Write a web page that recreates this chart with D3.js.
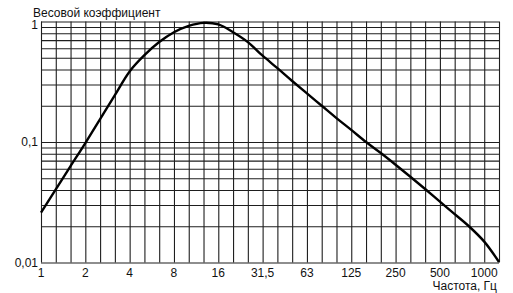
<!DOCTYPE html>
<html>
<head>
<meta charset="utf-8">
<script src="https://cdn.jsdelivr.net/npm/d3@7"></script>
<style>
  body { margin: 0; background: #fff; }
  text { font-family: "Liberation Sans", Arial, sans-serif; fill: #111; }
  .grid line { stroke: #1e1e1e; stroke-width: 1.1; }
  .curve { fill: none; stroke: #000; stroke-width: 2.4px; }
</style>
</head>
<body>
<svg id="chart"></svg>
<script>
// third-octave band frequencies, Hz (vertical grid + curve points)
var bandFreqs = [1, 1.25, 1.6, 2, 2.5, 3.15, 4, 5, 6.3, 8, 10, 12.5, 16, 20, 25, 31.5,
  40, 50, 63, 80, 100, 125, 160, 200, 250, 315, 400, 500, 630, 800, 1000, 1250];
// weighting factor at each band
var weights = [0.0259, 0.0404, 0.063, 0.098, 0.155, 0.245, 0.385, 0.525, 0.675, 0.815, 0.92, 0.975, 0.945, 0.815, 0.675, 0.52,
  0.41, 0.321, 0.253, 0.2, 0.158, 0.126, 0.1, 0.081, 0.0648, 0.0515, 0.0407, 0.032, 0.0252, 0.0198, 0.0149, 0.0101];
// labelled frequencies on the x axis
var xTickFreqs = [1, 2, 4, 8, 16, 31.5, 63, 125, 250, 500, 1000];
// horizontal grid values and labels on the y axis
var yGridValues = [0.01, 0.02, 0.03, 0.04, 0.05, 0.06, 0.07, 0.08, 0.09,
  0.1, 0.2, 0.3, 0.4, 0.5, 0.6, 0.7, 0.8, 0.9, 1];
var yTickValues = [0.01, 0.1, 1];

var chartW = 513, chartH = 293;
var plotLeft = 41, plotRight = 499, plotTop = 21.5, plotBottom = 262.5;

var svg = d3.select("#chart").attr("width", chartW).attr("height", chartH);

// nominal band -> exact third-octave centre (10^(k/10)), so the grid is even
function exact(f) { return Math.pow(10, Math.round(10 * Math.log10(f)) / 10); }

var x = d3.scaleLog().domain([1, exact(1250)]).range([plotLeft, plotRight]);
var y = d3.scaleLog().domain([0.01, 1]).range([plotBottom, plotTop]);

function comma(v) { return String(v).replace(".", ","); }

// vertical grid lines
svg.append("g")
  .attr("class", "grid")
  .attr("transform", "translate(0," + plotBottom + ")")
  .call(d3.axisBottom(x).tickValues(bandFreqs.map(exact)).tickSize(-(plotBottom - plotTop)).tickFormat(""))
  .call(g => g.select(".domain").remove());

// horizontal grid lines
svg.append("g")
  .attr("class", "grid")
  .attr("transform", "translate(" + plotLeft + ",0)")
  .call(d3.axisLeft(y).tickValues(yGridValues).tickSize(-(plotRight - plotLeft)).tickFormat(""))
  .call(g => g.select(".domain").remove());

// x labels
var xLabels = svg.append("g")
  .attr("transform", "translate(0," + plotBottom + ")");
xLabels.selectAll("text")
  .data(xTickFreqs)
  .join("text")
  .attr("x", d => x(exact(d)))
  .attr("y", 6)
  .attr("dy", "0.71em")
  .attr("text-anchor", "middle")
  .attr("font-size", 12)
  .text(comma);

// y labels
var yAxis = svg.append("g")
  .attr("transform", "translate(" + plotLeft + ",0)")
  .call(d3.axisLeft(y).tickValues(yTickValues).tickSize(0).tickPadding(3).tickFormat(comma))
  .call(g => g.select(".domain").remove());
yAxis.selectAll("text").attr("font-size", 12).attr("font-family", null);
// the "1" sits just below the top line
yAxis.selectAll("text").filter(d => d === 1).attr("dy", "0.57em");

// weighting curve
var line = d3.line()
  .x((d, i) => x(exact(bandFreqs[i])))
  .y(d => y(d))
  .curve(d3.curveCatmullRom.alpha(0.5));

svg.append("path")
  .datum(weights)
  .attr("class", "curve")
  .attr("d", line);

// titles
svg.append("text")
  .attr("x", 33).attr("y", 16.5)
  .attr("font-size", 12)
  .text("Весовой коэффициент");

svg.append("text")
  .attr("x", 497).attr("y", 290)
  .attr("text-anchor", "end")
  .attr("font-size", 12)
  .text("Частота, Гц");
</script>
</body>
</html>
